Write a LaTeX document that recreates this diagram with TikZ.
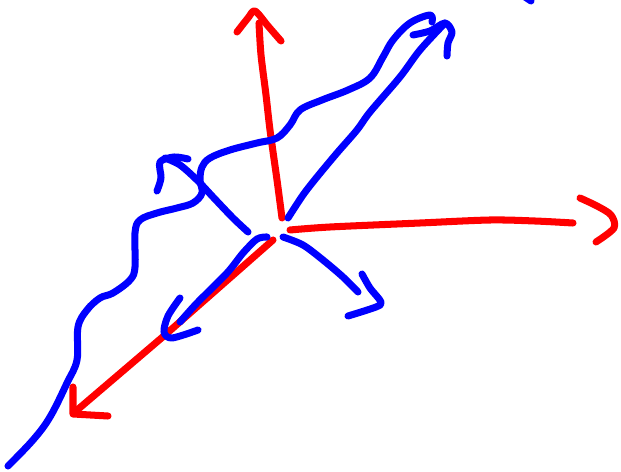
\documentclass[tikz,border=0pt]{standalone}
\usepackage{tikz}

\begin{document}
\begin{tikzpicture}[x=0.02cm, y=-0.02cm]
    % Stile del tratto a mano libera
    \tikzset{
        tratto/.style={
            line width=4pt,
            line cap=round,
            line join=round
        },
        rosso/.style={tratto, draw=red},
        blu/.style={tratto, draw=blue}
    }

    % Area del disegno (pixel, y verso il basso)
    \useasboundingbox (0,0) rectangle (621,472);

    % --- Assi rossi ---
    % Asse verticale
    \draw[rosso] plot[smooth] coordinates {(282,218) (277,180) (270,130) (266,95) (261,55) (259,23)};
    \draw[rosso] plot[smooth] coordinates {(237,32) (248,18) (255,11) (268,26) (281,41)};

    % Asse orizzontale
    \draw[rosso] plot[smooth] coordinates {(290,230) (330,227) (420,223) (490,220) (535,221) (573,223)};
    \draw[rosso] plot[smooth] coordinates {(580,198) (597,206) (611,215) (614,228) (596,242)};

    % Asse obliquo
    \draw[rosso] (273,240) -- (165,335) -- (76,411);
    \draw[rosso] (73,387) -- (73,414) -- (108,416);

    % --- Tratti blu ---
    % Linea ondulata
    \draw[blu] plot[smooth, tension=0.6] coordinates {
        (8,466) (33,440) (50,417) (67,383) (77,360) (78,327) (87,310)
        (100,298) (113,293) (130,280) (135,267) (135,233) (140,220)
        (157,213) (177,208) (193,203) (202,193) (200,180) (202,167)
        (210,158) (230,150) (257,143) (277,138) (290,125) (300,110)
        (322,100) (348,90) (370,78) (383,57) (393,40) (410,23)
        (430,15) (432,22)};

    % Freccia verso l'alto a destra
    \draw[blu] plot[smooth] coordinates {(288,218) (303,195) (317,177) (337,153) (357,130) (370,112) (400,77) (420,50) (445,23)};
    \draw[blu] plot[smooth, tension=0.5] coordinates {(413,35) (430,31) (445,23) (452,32) (448,43) (447,56)};

    % Piccolo segno in alto
    \draw[blu] (525,-3) -- (531,1);

    % Freccia verso l'alto a sinistra
    \draw[blu] plot[smooth] coordinates {(248,232) (233,218) (213,197) (197,180) (180,165) (165,158)};
    \draw[blu] plot[smooth, tension=0.5] coordinates {(157,191) (161,178) (160,162) (174,157) (188,159)};

    % Freccia verso il basso a sinistra
    \draw[blu] plot[smooth] coordinates {(267,237) (257,239) (243,253) (227,273) (197,303) (180,322)};
    \draw[blu] plot[smooth, tension=0.5] coordinates {(180,298) (168,316) (164,332) (172,338) (198,330)};

    % Freccia verso il basso a destra
    \draw[blu] plot[smooth] coordinates {(283,237) (303,245) (323,260) (343,277) (358,292)};
    \draw[blu] plot[smooth, tension=0.5] coordinates {(362,274) (370,288) (381,302) (376,307) (348,316)};
\end{tikzpicture}
\end{document}
